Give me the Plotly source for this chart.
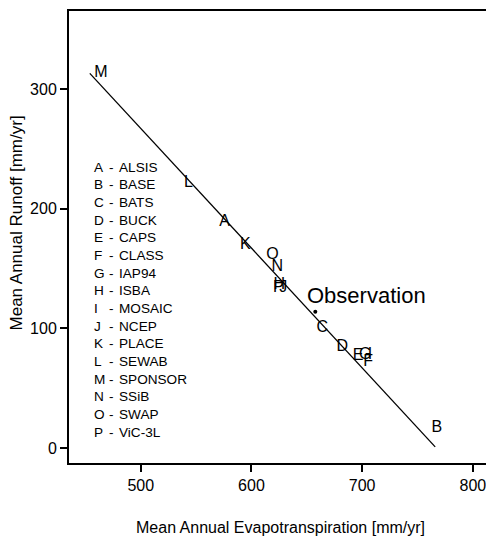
import plotly.graph_objects as go

# Model points (ET, runoff) labelled by letter
letters = ["M", "L", "A", "K", "O", "N", "H", "J", "P", "C", "D", "E", "G", "I", "F", "B"]
et = [464, 543, 575.7, 594.6, 619, 623.4, 625.2, 628.8, 624.3, 664, 682, 696.4, 702.7, 707.2, 705.4, 767.6]
runoff = [313, 221, 189, 170, 161, 151, 136.2, 133.7, 133.7, 100, 84.4, 76.9, 77.7, 77.7, 71.8, 16.7]

# Water-balance line
line_et = [454, 766]
line_runoff = [313, 1]

# Observation
obs_et = [657.7]
obs_runoff = [113.9]

# Legend key
key_letters = ["A", "B", "C", "D", "E", "F", "G", "H", "I", "J", "K", "L", "M", "N", "O", "P"]
key_names = ["ALSIS", "BASE", "BATS", "BUCK", "CAPS", "CLASS", "IAP94", "ISBA", "MOSAIC",
             "NCEP", "PLACE", "SEWAB", "SPONSOR", "SSiB", "SWAP", "ViC-3L"]

x_ticks = [500, 600, 700, 800]
y_ticks = [0, 100, 200, 300]

FONT = "Arial, Liberation Sans, Helvetica, sans-serif"

fig = go.Figure()
fig.add_trace(go.Scatter(x=line_et, y=line_runoff, mode="lines",
                         line=dict(color="black", width=1.3), hoverinfo="skip"))
fig.add_trace(go.Scatter(x=et, y=runoff, mode="text", text=letters,
                         textposition="middle center",
                         textfont=dict(family=FONT, size=16, color="black")))
fig.add_trace(go.Scatter(x=obs_et, y=obs_runoff, mode="markers",
                         marker=dict(color="black", size=4)))

fig.add_annotation(x=648.4, y=127.8, xref="x", yref="y", text="Observation",
                   showarrow=False, xanchor="left", yanchor="middle",
                   font=dict(family=FONT, size=22, color="black"))

# key text, one line per entry
top_px, step_px = 167, 17.67
plot_top, plot_h = 11, 452
for i, (l, n) in enumerate(zip(key_letters, key_names)):
    py = top_px + i * step_px
    yp = (plot_top + plot_h - py) / plot_h
    for xv, txt in ((456, l), (469.5, "-"), (478.6, n)):
        fig.add_annotation(x=xv, y=yp, xref="x", yref="paper", text=txt,
                           showarrow=False, xanchor="left", yanchor="middle",
                           font=dict(family=FONT, size=13.6, color="black"))

fig.add_annotation(x=0.506, y=-0.1416, xref="paper", yref="paper",
                   text="Mean Annual Evapotranspiration [mm/yr]", showarrow=False,
                   xanchor="center", yanchor="middle",
                   font=dict(family=FONT, size=16, color="black"))
fig.add_annotation(x=-0.127, y=0.53, xref="paper", yref="paper",
                   text="Mean Annual Runoff [mm/yr]", showarrow=False, textangle=-90,
                   xanchor="center", yanchor="middle",
                   font=dict(family=FONT, size=17, color="black"))

fig.update_layout(
    width=486, height=538,
    margin=dict(l=69, r=0, t=11, b=75),
    plot_bgcolor="white", paper_bgcolor="white",
    showlegend=False,
    xaxis=dict(range=[435.2, 811.9], tickvals=x_ticks, ticks="outside", ticklen=7,
               tickwidth=2, tickcolor="black", showline=True, linecolor="black",
               linewidth=2, mirror=True, showgrid=False, zeroline=False,
               ticklabeloverflow="allow",
               tickfont=dict(family=FONT, size=16, color="black")),
    yaxis=dict(range=[-12.5, 365.1], tickvals=y_ticks, ticks="outside", ticklen=7,
               tickwidth=2, tickcolor="black", showline=True, linecolor="black",
               linewidth=2, mirror=False, showgrid=False, zeroline=False,
               tickfont=dict(family=FONT, size=16, color="black")),
)

fig.write_html("out.html")
